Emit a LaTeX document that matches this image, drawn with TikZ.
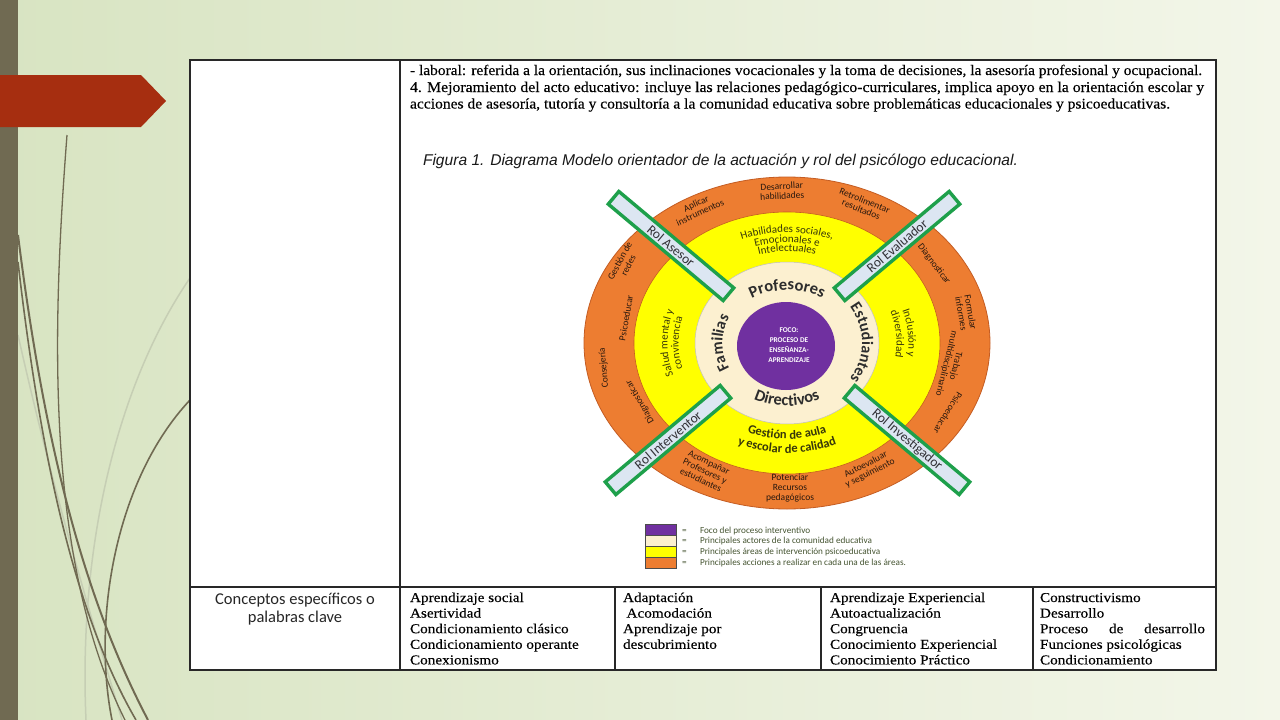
\documentclass[tikz,border=0pt]{standalone}
\usepackage{fontspec}
\usepackage{graphicx}
\usetikzlibrary{decorations.text}
\setmainfont{Liberation Serif}
\newfontfamily\calf{Carlito}
\newfontfamily\serf[FakeStretch=1.06,FakeBold=0.25]{Liberation Serif}
\newfontfamily\sert[FakeStretch=1.12,FakeBold=0.25]{Liberation Serif}
\newfontfamily\arf{Liberation Sans}

\definecolor{bgL}{RGB}{216,228,194}
\definecolor{bgR}{RGB}{243,246,233}
\definecolor{barC}{RGB}{112,106,82}
\definecolor{redA}{RGB}{166,46,16}
\definecolor{curveD}{RGB}{112,106,82}
\definecolor{curveL}{RGB}{198,206,180}
\definecolor{orng}{RGB}{237,125,49}
\definecolor{orngE}{RGB}{196,92,34}
\definecolor{ylw}{RGB}{255,255,0}
\definecolor{crm}{RGB}{252,240,208}
\definecolor{prp}{RGB}{112,48,160}
\definecolor{barF}{RGB}{220,230,242}
\definecolor{barG}{RGB}{30,160,75}
\definecolor{txtO}{RGB}{40,24,14}
\definecolor{txtY}{RGB}{55,55,10}
\definecolor{txtC}{RGB}{45,45,45}
\definecolor{rolT}{RGB}{50,50,55}
\definecolor{lgT}{RGB}{70,85,50}
\definecolor{tblC}{RGB}{40,40,40}

\newcommand\arctxt[7]{\path[decorate,decoration={text along path,text align=center,text color=#6,text={|#5|#7}}] (#3:#1pt and #2pt) arc[start angle=#3,end angle=#4,x radius=#1pt,y radius=#2pt];}

\tikzset{
  otxt/.style={font=\calf\fontsize{9.5}{9.6}\selectfont, text=txtO, align=center},
  rolbar/.style={draw=barG, fill=barF, line width=3.4pt, minimum width=150pt, minimum height=16.5pt, font=\calf\fontsize{13.5}{13.5}\selectfont, text=rolT},
  tbl/.style={draw=tblC, line width=1.4pt},
  celltxt/.style={font=\sert\fontsize{13.6}{15}\selectfont, anchor=base west, text=black},
  lgbox/.style={draw=black!70, line width=0.5pt},
  lgtxt/.style={font=\calf\fontsize{9.2}{9}\selectfont, text=lgT, anchor=base west},
}

\begin{document}
\begin{tikzpicture}[x=1pt,y=1pt,every node/.style={inner sep=0pt,outer sep=0pt}]
\useasboundingbox (0,0) rectangle (1280,-720);
\shade[left color=bgL,right color=bgR] (0,0) rectangle (1280,-720);
% decorative curves
\draw[curveL, line width=1.5] (190,-278) .. controls (120,-380) and (78,-540) .. (86,-720);
\draw[curveL, line width=1.5] (18,-335) .. controls (55,-500) and (95,-630) .. (122,-720);
\draw[curveD, line width=1.3] (67,-135) .. controls (52,-330) and (45,-560) .. (125,-720);
\draw[curveD, line width=2] (18,-235) .. controls (45,-450) and (85,-600) .. (148,-720);
\draw[curveD, line width=1.6] (18,-262) .. controls (42,-470) and (78,-620) .. (136,-720);
\draw[curveD, line width=1.6] (190,-400) .. controls (115,-480) and (92,-620) .. (112,-720);
% left bar and arrow
\fill[barC] (0,0) rectangle (18,-720);
\fill[redA] (0,-75) -- (141,-75) -- (166,-101) -- (141,-127) -- (0,-127) -- cycle;

% table
\draw[tbl, fill=white] (190,-60) rectangle (1216,-670);
\draw[tbl] (400,-60) -- (400,-670);
\draw[tbl] (190,-587) -- (1216,-587);
\draw[tbl] (615,-587) -- (615,-670);
\draw[tbl] (821,-587) -- (821,-670);
\draw[tbl] (1033,-587) -- (1033,-670);

% top text
\node[anchor=base west] (t1) at (410,-75) {\resizebox{792pt}{!}{\serf - laboral: referida a la orientación, sus inclinaciones vocacionales y la toma de decisiones, la asesoría profesional y ocupacional.}};
\node[anchor=base west] (t2) at (410,-92) {\resizebox{794pt}{!}{\serf 4. Mejoramiento del acto educativo: incluye las relaciones pedagógico-curriculares, implica apoyo en la orientación escolar y}};
\node[anchor=base west] (t3) at (410,-108.5) {\resizebox{760pt}{!}{\serf acciones de asesoría, tutoría y consultoría a la comunidad educativa sobre problemáticas educacionales y psicoeducativas.}};

% figure title
\node[anchor=base west, text=black!90] (title) at (423,-165) {\resizebox{595pt}{!}{\arf\itshape Figura 1. Diagrama Modelo orientador de la actuación y rol del psicólogo educacional.}};

% diagram
\begin{scope}[shift={(787,-343)}]
\fill[orng] (0,0) ellipse [x radius=203, y radius=166];
\draw[orngE, line width=0.8] (0,0) ellipse [x radius=203, y radius=166];
\fill[ylw] (0,0) ellipse [x radius=153, y radius=131];
\draw[orngE, line width=0.6] (0,0) ellipse [x radius=153, y radius=131];
\fill[crm] (0,0) ellipse [x radius=92, y radius=81];
\draw[black!25, line width=0.5] (0,0) ellipse [x radius=92, y radius=81];
\fill[prp] (-1,-3) ellipse [x radius=49, y radius=44];
\node[font=\calf\bfseries\fontsize{7.3}{10}\selectfont, text=white, align=center] (foco) at (2,-2) {FOCO:\\PROCESO DE\\ENSEÑANZA-\\APRENDIZAJE};

% cream ring: actors
\arctxt{66}{53}{130}{50}{\calf\bfseries\fontsize{16.5}{16.5}\selectfont}{txtC}{Profesores}
\arctxt{72}{63}{230}{310}{\calf\bfseries\fontsize{16.5}{16.5}\selectfont}{txtC}{Directivos}
\arctxt{64.5}{57}{222}{138}{\calf\bfseries\fontsize{16}{16}\selectfont}{txtC}{Familias}
\arctxt{75}{66}{48}{-48}{\calf\bfseries\fontsize{16}{16}\selectfont}{txtC}{Estudiantes}

% yellow ring: areas
\arctxt{128}{110.5}{125}{55}{\calf\fontsize{11}{11}\selectfont}{txtY}{Habilidades sociales,}
\arctxt{117}{100.5}{125}{55}{\calf\fontsize{11}{11}\selectfont}{txtY}{Emocionales e}
\arctxt{106}{91.5}{125}{55}{\calf\fontsize{11}{11}\selectfont}{txtY}{Intelectuales}
\arctxt{110}{96}{228}{312}{\calf\bfseries\fontsize{12.5}{12.5}\selectfont}{txtY}{Gestión de aula}
\arctxt{126}{110}{228}{312}{\calf\bfseries\fontsize{12.5}{12.5}\selectfont}{txtY}{y escolar de calidad}
\arctxt{119.5}{103}{215}{145}{\calf\fontsize{11}{11}\selectfont}{txtY}{Salud mental y}
\arctxt{108.5}{93.5}{215}{145}{\calf\fontsize{11}{11}\selectfont}{txtY}{convivencia}
\arctxt{121.5}{105}{45}{-35}{\calf\fontsize{11}{11}\selectfont}{txtY}{Inclusión y}
\arctxt{109.5}{94.5}{45}{-35}{\calf\fontsize{11}{11}\selectfont}{txtY}{diversidad}

% orange ring: actions
\node[otxt, rotate=62] (o1) at (-163,80) {Gestión de\\redes};
\node[otxt, rotate=25] (o2) at (-89,135) {Aplicar\\instrumentos};
\node[otxt, rotate=3] (o3) at (-5,152) {Desarrollar\\habilidades};
\node[otxt, rotate=-22] (o4) at (76,138) {Retrolimentar\\resultados};
\node[otxt, rotate=-53] (o5) at (147,79) {Diagnosticar};
\node[otxt, rotate=-80] (o6) at (179,30) {Formular\\informes};
\node[otxt, rotate=-104] (o7) at (164,-22) {Trabajo\\multidisciplinario};
\node[otxt, rotate=-122] (o8) at (161,-70) {Psicoeducar};
\node[otxt, rotate=27] (o9) at (81,-126) {Autoevaluar\\y seguimiento};
\node[otxt, rotate=0] (o10) at (3,-145) {Potenciar\\Recursos\\pedagógicos};
\node[otxt, rotate=-25] (o11) at (-82,-128) {Acompañar\\Profesores y\\estudiantes};
\node[otxt, rotate=120] (o12) at (-147,-59) {Diagnosticar};
\node[otxt, rotate=95] (o13) at (-183,-25) {Consejería};
\node[otxt, rotate=80] (o14) at (-161,25) {Psicoeducar};

% role bars
\node[rolbar, rotate=-40] (asesor) at (-116,97) {Rol Asesor};
\node[rolbar, rotate=40] (evaluador) at (110,97) {Rol Evaluador};
\node[rolbar, rotate=40] (interventor) at (-119,-97) {Rol Interventor};
\node[rolbar, rotate=-40] (investigador) at (120,-97) {Rol Investigador};
\end{scope}

% legend
\filldraw[lgbox, fill=prp] (645,-524) rectangle (676,-535);
\filldraw[lgbox, fill=crm] (645,-535) rectangle (676,-546);
\filldraw[lgbox, fill=ylw] (645,-546) rectangle (676,-557);
\filldraw[lgbox, fill=orng] (645,-557) rectangle (676,-568);
\node[lgtxt] (eq1) at (682,-533) {=};
\node[lgtxt] (eq2) at (682,-543.5) {=};
\node[lgtxt] (eq3) at (682,-554.5) {=};
\node[lgtxt] (eq4) at (682,-565.5) {=};
\node[lgtxt] (lg1) at (700,-533) {Foco del proceso interventivo};
\node[lgtxt] (lg2) at (700,-543.5) {Principales actores de la comunidad educativa};
\node[lgtxt] (lg3) at (700,-554.5) {Principales áreas de intervención psicoeducativa};
\node[lgtxt] (lg4) at (700,-565.5) {Principales acciones a realizar en cada una de las áreas.};

% bottom row
\node[font=\calf\fontsize{16.5}{18}\selectfont, align=center, text=black!85] (kw) at (295,-609) {Conceptos específicos o\\palabras clave};
\foreach \t [count=\i] in {Aprendizaje social,Asertividad,Condicionamiento clásico,Condicionamiento operante,Conexionismo}
  \node[celltxt] (ca\i) at (410,{-602-15.6*(\i-1)}) {\t};
\foreach \t [count=\i] in {Adaptación,\hspace{3.5pt}Acomodación,Aprendizaje por,descubrimiento}
  \node[celltxt] (cb\i) at (623,{-602-15.6*(\i-1)}) {\t};
\foreach \t [count=\i] in {Aprendizaje Experiencial,Autoactualización,Congruencia,Conocimiento Experiencial,Conocimiento Práctico}
  \node[celltxt] (cc\i) at (830,{-602-15.6*(\i-1)}) {\t};
\foreach \t [count=\i] in {Constructivismo,Desarrollo,\makebox[165pt][s]{Proceso de desarrollo},Funciones psicológicas,Condicionamiento}
  \node[celltxt] (cd\i) at (1040,{-602-15.6*(\i-1)}) {\t};
\end{tikzpicture}
\end{document}
